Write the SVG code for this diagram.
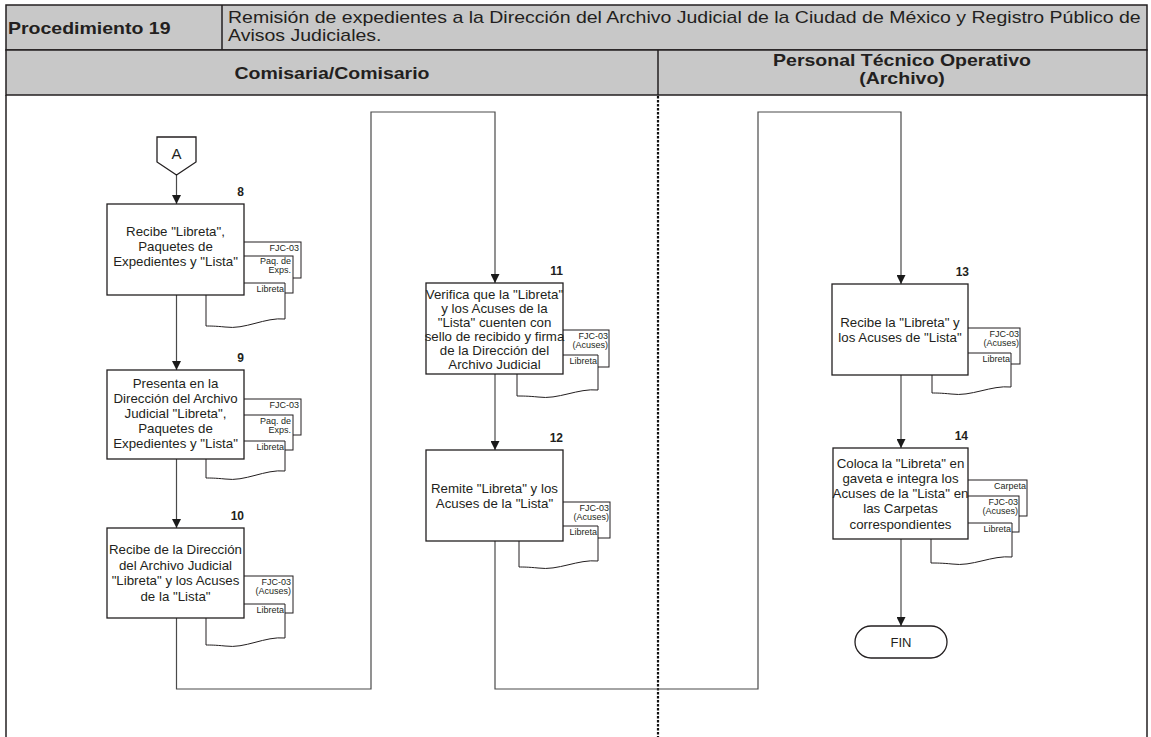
<svg xmlns="http://www.w3.org/2000/svg" width="1151" height="737" viewBox="0 0 1151 737">
<defs>
<marker id="arr" viewBox="0 0 10 10" refX="10" refY="5" markerWidth="9" markerHeight="9" markerUnits="userSpaceOnUse" orient="auto">
<path d="M0,0 L10,5 L0,10 Z" fill="#1a1a1a"/>
</marker>
</defs>
<style>
.hdr{fill:#c8c8c8;stroke:#231f20;stroke-width:1.5}
.ln{stroke:#231f20;stroke-width:1.5;fill:none}
.dash{stroke:#111;stroke-width:2.2;stroke-dasharray:2.5 1.5;fill:none}
.t{font-family:"Liberation Sans",Arial,sans-serif;fill:#231f20}
.hb{font-size:16px;font-weight:bold}
.hn{font-size:16px}
.box{fill:#fff;stroke:#231f20;stroke-width:1.3}
.doc{fill:#fff;stroke:#231f20;stroke-width:1}
.bt{font-size:13.3px;text-anchor:middle}
.dt{font-size:9px;text-anchor:end}
.num{font-size:12px;font-weight:bold;text-anchor:end}
.con{stroke:#4a4a4a;stroke-width:1.2;fill:none}
</style>
<rect x="0" y="0" width="1151" height="737" fill="#fff"/>
<g id="header">
<rect class="hdr" x="6" y="5" width="1141" height="45"/>
<rect class="hdr" x="6" y="50" width="1141" height="45"/>
<line class="ln" x1="222" y1="5" x2="222" y2="50"/>
<line class="ln" x1="658" y1="50" x2="658" y2="95"/>
<line class="ln" x1="6" y1="95" x2="6" y2="737"/>
<line class="ln" x1="1147" y1="95" x2="1147" y2="737"/>
<line class="dash" x1="658" y1="96" x2="658" y2="737"/>
<text class="t hb" transform="translate(8,34) scale(1.22,1)">Procedimiento 19</text>
<text class="t hn" transform="translate(228,23) scale(1.22,1)">Remisión de expedientes a la Dirección del Archivo Judicial de la Ciudad de México y Registro Público de</text>
<text class="t hn" transform="translate(228,41) scale(1.22,1)">Avisos Judiciales.</text>
<text class="t hb" text-anchor="middle" transform="translate(332,79) scale(1.22,1)">Comisaria/Comisario</text>
<text class="t hb" text-anchor="middle" transform="translate(902,66) scale(1.22,1)">Personal Técnico Operativo</text>
<text class="t hb" text-anchor="middle" transform="translate(902,84) scale(1.22,1)">(Archivo)</text>
</g>
<g id="connectors">
<line class="con" x1="176.5" y1="175" x2="176.5" y2="204" marker-end="url(#arr)"/>
<line class="con" x1="176.5" y1="295" x2="176.5" y2="370" marker-end="url(#arr)"/>
<line class="con" x1="176.5" y1="459" x2="176.5" y2="528" marker-end="url(#arr)"/>
<polyline class="con" points="176.5,618 176.5,689 371,689 371,112 495,112 495,283" marker-end="url(#arr)"/>
<line class="con" x1="495" y1="374" x2="495" y2="450" marker-end="url(#arr)"/>
<polyline class="con" points="495,541 495,689 758,689 758,112 901,112 901,284" marker-end="url(#arr)"/>
<line class="con" x1="901" y1="375" x2="901" y2="448" marker-end="url(#arr)"/>
<line class="con" x1="901" y1="539" x2="901" y2="626" marker-end="url(#arr)"/>
</g>
<g id="connA">
<polygon class="box" points="157,137 196,137 196,162 176.5,175 157,162"/>
<text class="t" x="176.5" y="159" font-size="15" text-anchor="middle">A</text>
</g>
<g id="n8">
<rect class="doc" x="214" y="242" width="87" height="36"/>
<rect class="doc" x="222" y="256" width="71" height="37"/>
<path class="doc" d="M206,283 H285 V319 C265,317 245,330 225,327 C215,326 210,326 206,326 Z"/>
<rect class="box" x="107" y="204" width="137" height="91"/>
<text class="t num" x="244" y="196">8</text>
<text class="t bt"><tspan x="175.5" y="236">Recibe "Libreta",</tspan><tspan x="175.5" y="251">Paquetes de</tspan><tspan x="175.5" y="266">Expedientes y "Lista"</tspan></text>
<text class="t dt" x="299" y="251">FJC-03</text>
<text class="t dt" x="291" y="264">Paq. de</text>
<text class="t dt" x="291" y="273">Exps.</text>
<text class="t dt" x="284" y="292">Libreta</text>
</g>
<g id="n9">
<rect class="doc" x="214" y="399" width="87" height="36"/>
<rect class="doc" x="222" y="415" width="71" height="35"/>
<path class="doc" d="M206,441 H285 V471 C265,469 245,482 225,479 C215,478 210,478 206,478 Z"/>
<rect class="box" x="107" y="370" width="137" height="89"/>
<text class="t num" x="244" y="362">9</text>
<text class="t bt"><tspan x="175.5" y="388">Presenta en la</tspan><tspan x="175.5" y="403">Dirección del Archivo</tspan><tspan x="175.5" y="418">Judicial "Libreta",</tspan><tspan x="175.5" y="433">Paquetes de</tspan><tspan x="175.5" y="448">Expedientes y "Lista"</tspan></text>
<text class="t dt" x="299" y="408">FJC-03</text>
<text class="t dt" x="291" y="424">Paq. de</text>
<text class="t dt" x="291" y="433">Exps.</text>
<text class="t dt" x="284" y="450">Libreta</text>
</g>
<g id="n10">
<rect class="doc" x="214" y="576" width="79" height="37"/>
<path class="doc" d="M206,604 H285 V638 C265,636 245,649 225,646 C215,645 210,645 206,645 Z"/>
<rect class="box" x="107" y="528" width="137" height="90"/>
<text class="t num" x="244" y="520">10</text>
<text class="t bt"><tspan x="175.5" y="554">Recibe de la Dirección</tspan><tspan x="175.5" y="569.5">del Archivo Judicial</tspan><tspan x="175.5" y="585">"Libreta" y los Acuses</tspan><tspan x="175.5" y="600.5">de la "Lista"</tspan></text>
<text class="t dt" x="291" y="585">FJC-03</text>
<text class="t dt" x="291" y="594">(Acuses)</text>
<text class="t dt" x="284" y="613">Libreta</text>
</g>
<g id="n11">
<rect class="doc" x="530" y="330" width="79" height="37"/>
<path class="doc" d="M517,355 H598 V390 C578,388 558,400 538,397 C528,396 522,396 517,396 Z"/>
<rect class="box" x="426" y="283" width="137" height="91"/>
<text class="t num" x="563" y="275">11</text>
<text class="t bt"><tspan x="494.5" y="299">Verifica que la "Libreta"</tspan><tspan x="494.5" y="313">y los Acuses de la</tspan><tspan x="494.5" y="327">"Lista" cuenten con</tspan><tspan x="494.5" y="341">sello de recibido y firma</tspan><tspan x="494.5" y="355">de la Dirección del</tspan><tspan x="494.5" y="369">Archivo Judicial</tspan></text>
<text class="t dt" x="608" y="339">FJC-03</text>
<text class="t dt" x="608" y="348">(Acuses)</text>
<text class="t dt" x="597" y="364">Libreta</text>
</g>
<g id="n12">
<rect class="doc" x="530" y="502" width="80" height="36"/>
<path class="doc" d="M519,526 H598 V561 C578,559 558,571 538,568 C528,567 523,567 519,567 Z"/>
<rect class="box" x="426" y="450" width="137" height="91"/>
<text class="t num" x="563" y="442">12</text>
<text class="t bt"><tspan x="494.5" y="493">Remite "Libreta" y los</tspan><tspan x="494.5" y="508">Acuses de la "Lista"</tspan></text>
<text class="t dt" x="609" y="511">FJC-03</text>
<text class="t dt" x="609" y="520">(Acuses)</text>
<text class="t dt" x="597" y="535">Libreta</text>
</g>
<g id="n13">
<rect class="doc" x="935" y="328" width="85" height="36"/>
<path class="doc" d="M932,353 H1011 V387 C991,385 971,397 951,394 C941,393 936,393 932,393 Z"/>
<rect class="box" x="832" y="284" width="136" height="91"/>
<text class="t num" x="969" y="276">13</text>
<text class="t bt"><tspan x="900" y="326.5">Recibe la "Libreta" y</tspan><tspan x="900" y="341.5">los Acuses de "Lista"</tspan></text>
<text class="t dt" x="1019" y="337">FJC-03</text>
<text class="t dt" x="1019" y="346">(Acuses)</text>
<text class="t dt" x="1010" y="362">Libreta</text>
</g>
<g id="n14">
<rect class="doc" x="935" y="480" width="92" height="36"/>
<rect class="doc" x="935" y="496" width="84" height="36"/>
<path class="doc" d="M931,523 H1012 V557 C992,555 972,567 952,564 C942,563 936,563 931,563 Z"/>
<rect class="box" x="833" y="448" width="135" height="91"/>
<text class="t num" x="968" y="440">14</text>
<text class="t bt"><tspan x="900.5" y="467.5">Coloca la "Libreta" en</tspan><tspan x="900.5" y="482.8">gaveta e integra los</tspan><tspan x="900.5" y="498.1">Acuses de la "Lista" en</tspan><tspan x="900.5" y="513.4">las Carpetas</tspan><tspan x="900.5" y="528.7">correspondientes</tspan></text>
<text class="t dt" x="1026" y="489">Carpeta</text>
<text class="t dt" x="1018" y="505">FJC-03</text>
<text class="t dt" x="1018" y="514">(Acuses)</text>
<text class="t dt" x="1011" y="532">Libreta</text>
</g>
<g id="fin">
<rect class="box" x="855" y="626" width="92" height="32" rx="16" ry="16"/>
<text class="t" x="901" y="647" font-size="13" text-anchor="middle">FIN</text>
</g>
</svg>
